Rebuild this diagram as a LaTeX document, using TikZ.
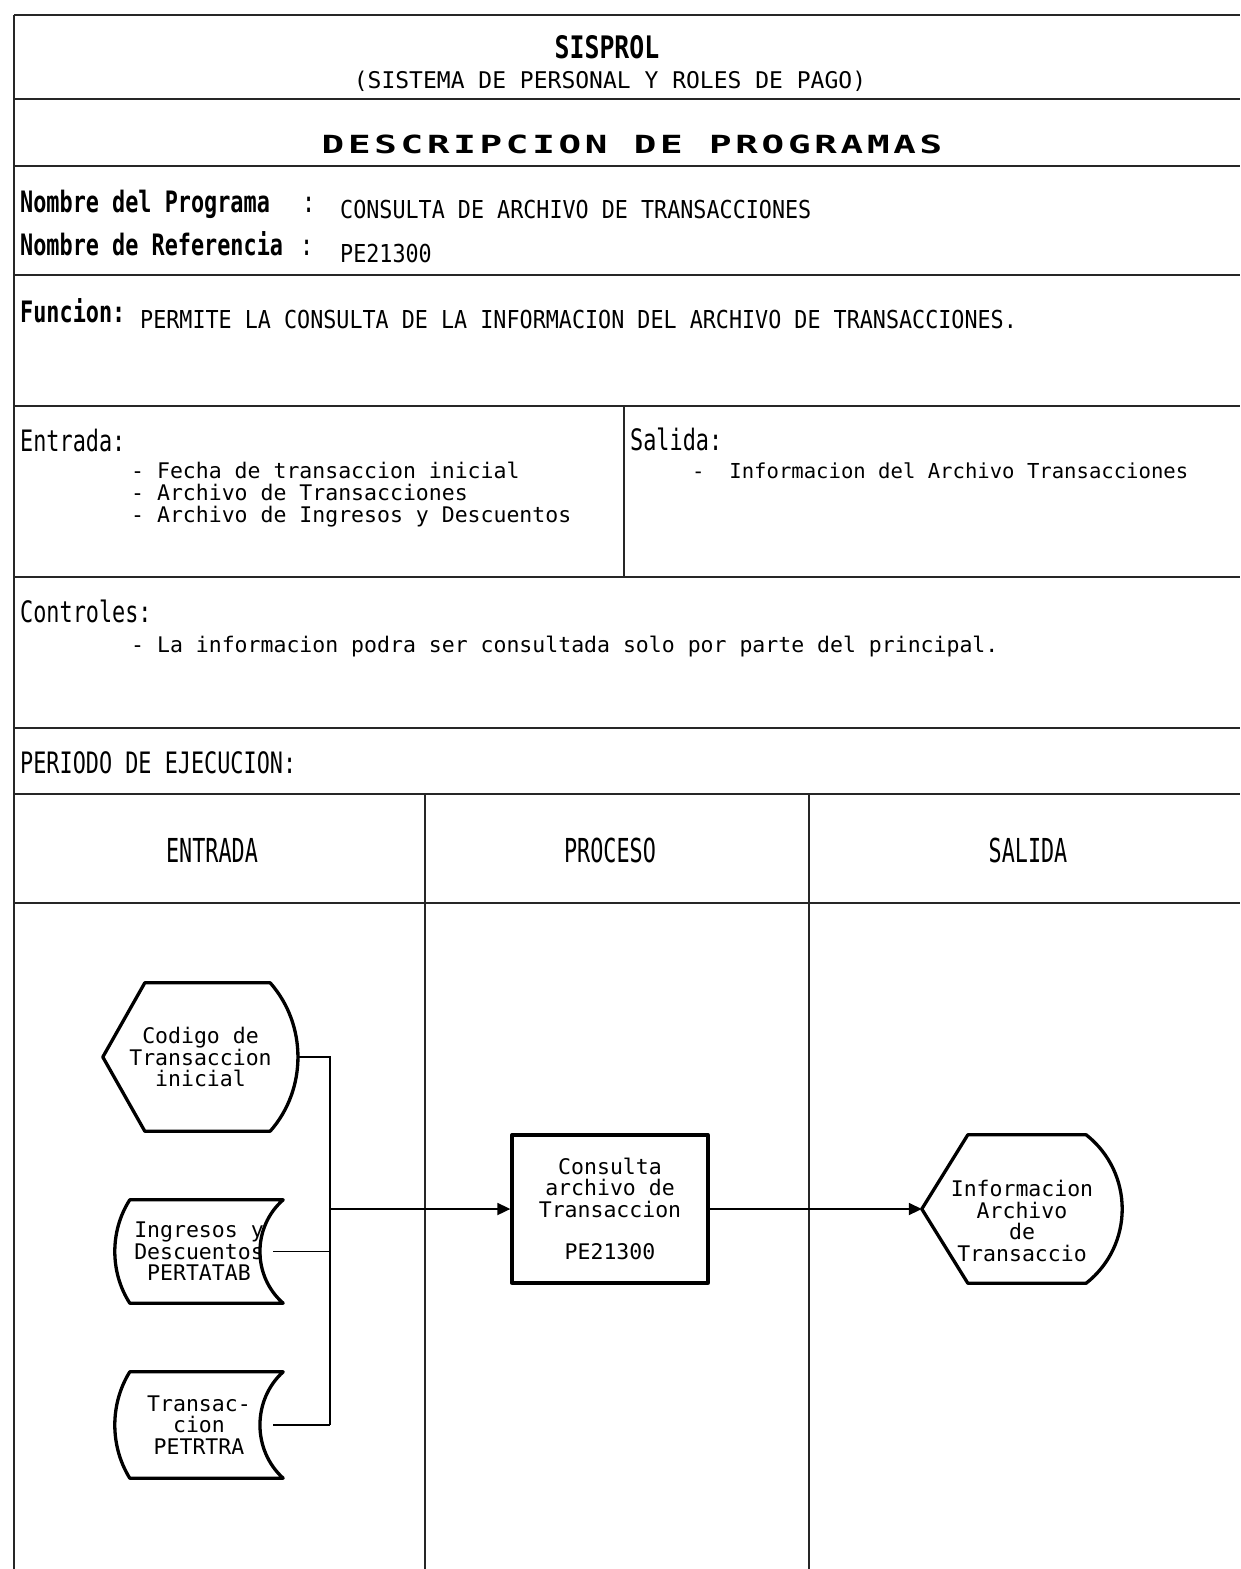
\documentclass[tikz,border=0pt]{standalone}
\usepackage{fontspec}
\setmainfont{DejaVu Sans Mono}
\newfontfamily\headfont[FakeStretch=0.74]{DejaVu Sans Mono}
\newfontfamily\colfont[FakeStretch=0.66]{DejaVu Sans Mono}
\newfontfamily\valfont[FakeStretch=0.88]{DejaVu Sans Mono}
\newfontfamily\titlefont[FakeStretch=0.8]{DejaVu Sans Mono}
\newfontfamily\bannerfont[FakeStretch=1.5,LetterSpace=15]{DejaVu Sans Mono}
\usetikzlibrary{arrows.meta}

\begin{document}
\begin{tikzpicture}[x=1pt, y=-1pt,
        tablerule/.style = {line width=2.2pt, black!85},
        outline/.style = {line width=3.3pt, line join=round},
        wire/.style = {line width=1.8pt},
        tip/.style = {-{Triangle[length=13pt, width=12pt]}},
        heading/.style = {anchor=base west, inner sep=0pt, font=\headfont\fontsize{29.5}{30}\selectfont},
        valtext/.style = {anchor=base west, inner sep=0pt, font=\valfont\fontsize{24.7}{25}\selectfont},
        itemtext/.style = {anchor=base west, inner sep=0pt, font=\fontsize{21.5}{22}\selectfont},
        colhead/.style = {anchor=base, inner sep=0pt, font=\colfont\fontsize{33}{34}\selectfont},
        flowtext/.style = {align=center, inner sep=0pt, font=\fontsize{21.5}{21.4}\selectfont}]
    \useasboundingbox (0,0) rectangle (1240,1569);
    \fill[white] (0,0) rectangle (1240,1569);
    % form frame
    \draw[tablerule] (14,15) -- (1240,15);
    \draw[tablerule] (14,99) -- (1240,99);
    \draw[tablerule] (14,166) -- (1240,166);
    \draw[tablerule] (14,275) -- (1240,275);
    \draw[tablerule] (14,406) -- (1240,406);
    \draw[tablerule] (14,577) -- (1240,577);
    \draw[tablerule] (14,728) -- (1240,728);
    \draw[tablerule] (14,794) -- (1240,794);
    \draw[tablerule] (14,903) -- (1240,903);
    \draw[tablerule] (14,15) -- (14,1569);
    \draw[tablerule] (624,406) -- (624,577);
    \draw[tablerule] (425,794) -- (425,1569);
    \draw[tablerule] (809,794) -- (809,1569);
    % header
    \node[anchor=base, inner sep=0pt, font=\titlefont\bfseries\fontsize{31}{31}\selectfont] (title) at (607,58) {SISPROL};
    \node[anchor=base, inner sep=0pt, font=\fontsize{23}{23}\selectfont] (subtitle) at (610,88) {(SISTEMA DE PERSONAL Y ROLES DE PAGO)};
    \node[anchor=base, inner sep=0pt, font=\bannerfont\bfseries\fontsize{25}{25}\selectfont] (banner) at (632,153) {DESCRIPCION DE PROGRAMAS};
    \node[heading, font=\headfont\bfseries\fontsize{29.5}{30}\selectfont] (progname) at (20,212) {Nombre del Programa};
    \node[heading] (progcolon) at (302,212) {:};
    \node[valtext] (progvalue) at (340,218) {CONSULTA DE ARCHIVO DE TRANSACCIONES};
    \node[heading, font=\headfont\bfseries\fontsize{29.5}{30}\selectfont] (refname) at (20,255) {Nombre de Referencia};
    \node[heading] (refcolon) at (300,255) {:};
    \node[valtext] (refvalue) at (340,262) {PE21300};
    \node[heading, font=\headfont\bfseries\fontsize{29.5}{30}\selectfont] (funcion) at (20,322) {Funcion:};
    \node[valtext] (funcvalue) at (140,328) {PERMITE LA CONSULTA DE LA INFORMACION DEL ARCHIVO DE TRANSACCIONES.};
    % entrada / salida
    \node[heading] (entrada) at (20,451) {Entrada:};
    \node[itemtext] (entA) at (131,478) {- Fecha de transaccion inicial};
    \node[itemtext] (entB) at (131,500) {- Archivo de Transacciones};
    \node[itemtext] (entC) at (131,522) {- Archivo de Ingresos y Descuentos};
    \node[heading] (salida) at (630,450) {Salida:};
    \node[itemtext, font=\fontsize{20.6}{22}\selectfont] (salA) at (692,478) {-\ \ Informacion del Archivo Transacciones};
    % controles
    \node[heading] (controles) at (20,622) {Controles:};
    \node[itemtext] (ctrlA) at (131,652) {- La informacion podra ser consultada solo por parte del principal.};
    \node[heading] (periodo) at (20,773) {PERIODO DE EJECUCION:};
    \node[colhead] (colentrada) at (212,862) {ENTRADA};
    \node[colhead] (colproceso) at (610,862) {PROCESO};
    \node[colhead] (colsalida) at (1028,862) {SALIDA};
    % flow chart
    \node[flowtext, minimum width=195pt, minimum height=148pt] (codigo) at (200.5,1057) {Codigo de\\Transaccion\\inicial};
    \draw[outline] (codigo.west) -- ([xshift=42]codigo.north west) -- ([xshift=-28]codigo.north east)
        .. controls +(37,42) and +(37,-42) .. ([xshift=-28]codigo.south east) -- ([xshift=42]codigo.south west) -- cycle;
    \node[flowtext, minimum width=168pt, minimum height=103pt] (ingresos) at (199,1251.5) {Ingresos y\\Descuentos\\PERTATAB};
    \draw[outline] ([xshift=15]ingresos.north west) -- (ingresos.north east)
        .. controls +(-31,27) and +(-31,-27) .. (ingresos.south east) -- ([xshift=15]ingresos.south west)
        .. controls +(-20,-31) and +(-20,31) .. ([xshift=15]ingresos.north west) -- cycle;
    \node[flowtext, minimum width=168pt, minimum height=106pt] (transac) at (199,1425) {Transac-\\cion\\PETRTRA};
    \draw[outline] ([xshift=15]transac.north west) -- (transac.north east)
        .. controls +(-31,28) and +(-31,-28) .. (transac.south east) -- ([xshift=15]transac.south west)
        .. controls +(-20,-32) and +(-20,32) .. ([xshift=15]transac.north west) -- cycle;
    \node[flowtext, draw, outline, minimum width=196pt, minimum height=148pt] (consulta) at (610,1209) {Consulta\\archivo de\\Transaccion\\[21.4pt]PE21300};
    \node[minimum width=200pt, minimum height=148pt, inner sep=0pt] (info) at (1022,1209) {};
    \draw[outline] (info.west) -- ([xshift=46]info.north west) -- ([xshift=-36]info.north east)
        .. controls +(48,38) and +(48,-38) .. ([xshift=-36]info.south east) -- ([xshift=46]info.south west) -- cycle;
    \node[flowtext] (infotext) at ([shift={(0,12)}]info.center) {Informacion\\Archivo\\de\\Transaccio};
    % connectors
    \coordinate (bus) at (330,1209);
    \draw[wire] (codigo.east) -| (bus |- transac.east);
    \draw[wire] ([xshift=-10]ingresos.east) -- (ingresos.east -| bus);
    \draw[wire] ([xshift=-10]transac.east) -- (transac.east -| bus);
    \draw[wire, tip] (bus) -- (consulta.west);
    \draw[wire, tip] (consulta.east) -- (info.west);
\end{tikzpicture}
\end{document}
